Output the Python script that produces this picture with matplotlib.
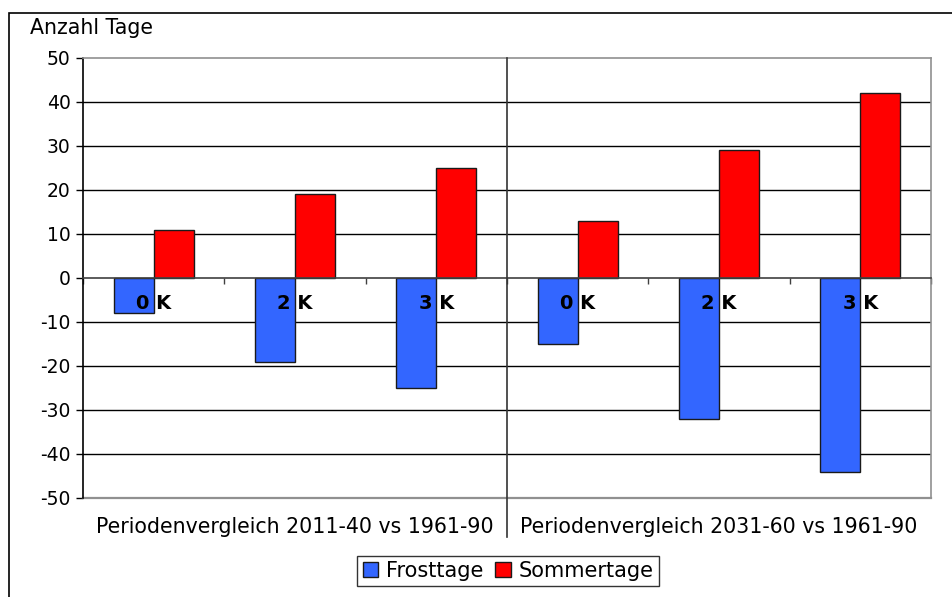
import matplotlib
matplotlib.use("Agg")
import matplotlib.pyplot as plt
import matplotlib.patches as mpatches
import matplotlib.transforms as mtransforms
import numpy as np

categories = ["0 K", "2 K", "3 K", "0 K", "2 K", "3 K"]
frosttage = [-8, -19, -25, -15, -32, -44]
sommertage = [11, 19, 25, 13, 29, 42]
groups = ["Periodenvergleich 2011-40 vs 1961-90", "Periodenvergleich 2031-60 vs 1961-90"]
series_names = ["Frosttage", "Sommertage"]
y_label = "Anzahl Tage"

plt.rcParams['font.family'] = ['DejaVu Sans']
plt.rcParams['axes.unicode_minus'] = False

W, H = 952, 597
fig = plt.figure(figsize=(W / 100, H / 100), dpi=100)

# outer frame
frame = mpatches.Rectangle((9 / W, -0.2), 2, 1.2 - 13 / H, transform=fig.transFigure,
                           fill=False, edgecolor="black", linewidth=1.2, clip_on=False)
fig.patches.append(frame)

ax = fig.add_axes([83 / W, 1 - 498 / H, (931 - 83) / W, (498 - 58) / H])

n = len(categories)
x = np.arange(n) + 0.5
bw = 0.283
ax.bar(x - bw / 2, frosttage, bw, color="#3366FF", edgecolor="#1a1a1a", linewidth=1.0,
       label=series_names[0], zorder=3)
ax.bar(x + bw / 2, sommertage, bw, color="#FF0000", edgecolor="#1a1a1a", linewidth=1.0,
       label=series_names[1], zorder=3)

ax.set_xlim(0, n)
ax.set_ylim(-50, 50)
ax.set_yticks(np.arange(-50, 51, 10))
ax.tick_params(axis="y", direction="out", length=5, width=1, labelsize=13.5, pad=4)

for yv in range(-40, 50, 10):
    if yv != 0:
        ax.axhline(yv, color="black", linewidth=1.0, zorder=1)

# plot area border
for s in ["top", "right"]:
    ax.spines[s].set_color("#909090")
    ax.spines[s].set_linewidth(1.2)
ax.spines["left"].set_color("black")
ax.spines["left"].set_linewidth(1.2)
ax.spines["bottom"].set_position(("data", 0))
ax.spines["bottom"].set_color("#404040")
ax.spines["bottom"].set_linewidth(1.2)
ax.spines["bottom"].set_zorder(4)
ax.axhline(-50, color="#909090", linewidth=1.6, zorder=2, clip_on=False)

ax.set_xticks(np.arange(0, n + 1))
ax.set_xticklabels([])
ax.tick_params(axis="x", direction="out", length=4, width=1, color="#404040")

# category labels
for xi, lab in zip(x, categories):
    ax.text(xi, -5.7, lab, ha="center", va="center", fontsize=14,
            fontweight="bold", zorder=5)

# group separator and labels
trans = mtransforms.blended_transform_factory(ax.transData, ax.transAxes)
ax.plot([3, 3], [1, -(537 - 498) / 440], transform=trans, color="#333333",
        linewidth=1.2, clip_on=False, zorder=5)
for gi, g in enumerate(groups):
    ax.text(1.5 + 3 * gi, -(527 - 498) / 440, g, transform=trans, ha="center",
            va="center", fontsize=14.8)

fig.text(30 / W, 1 - 28 / H, y_label, ha="left", va="center", fontsize=14.8)

leg = fig.legend(loc="center", bbox_to_anchor=(508 / W, 1 - 571 / H), ncol=2,
                 frameon=True, fancybox=False, fontsize=15, handlelength=0.75,
                 handleheight=0.75, handletextpad=0.35, columnspacing=0.6,
                 borderpad=0.25, borderaxespad=0)
leg.get_frame().set_edgecolor("black")
leg.get_frame().set_linewidth(1.0)

fig.savefig("out.png", dpi=100)
